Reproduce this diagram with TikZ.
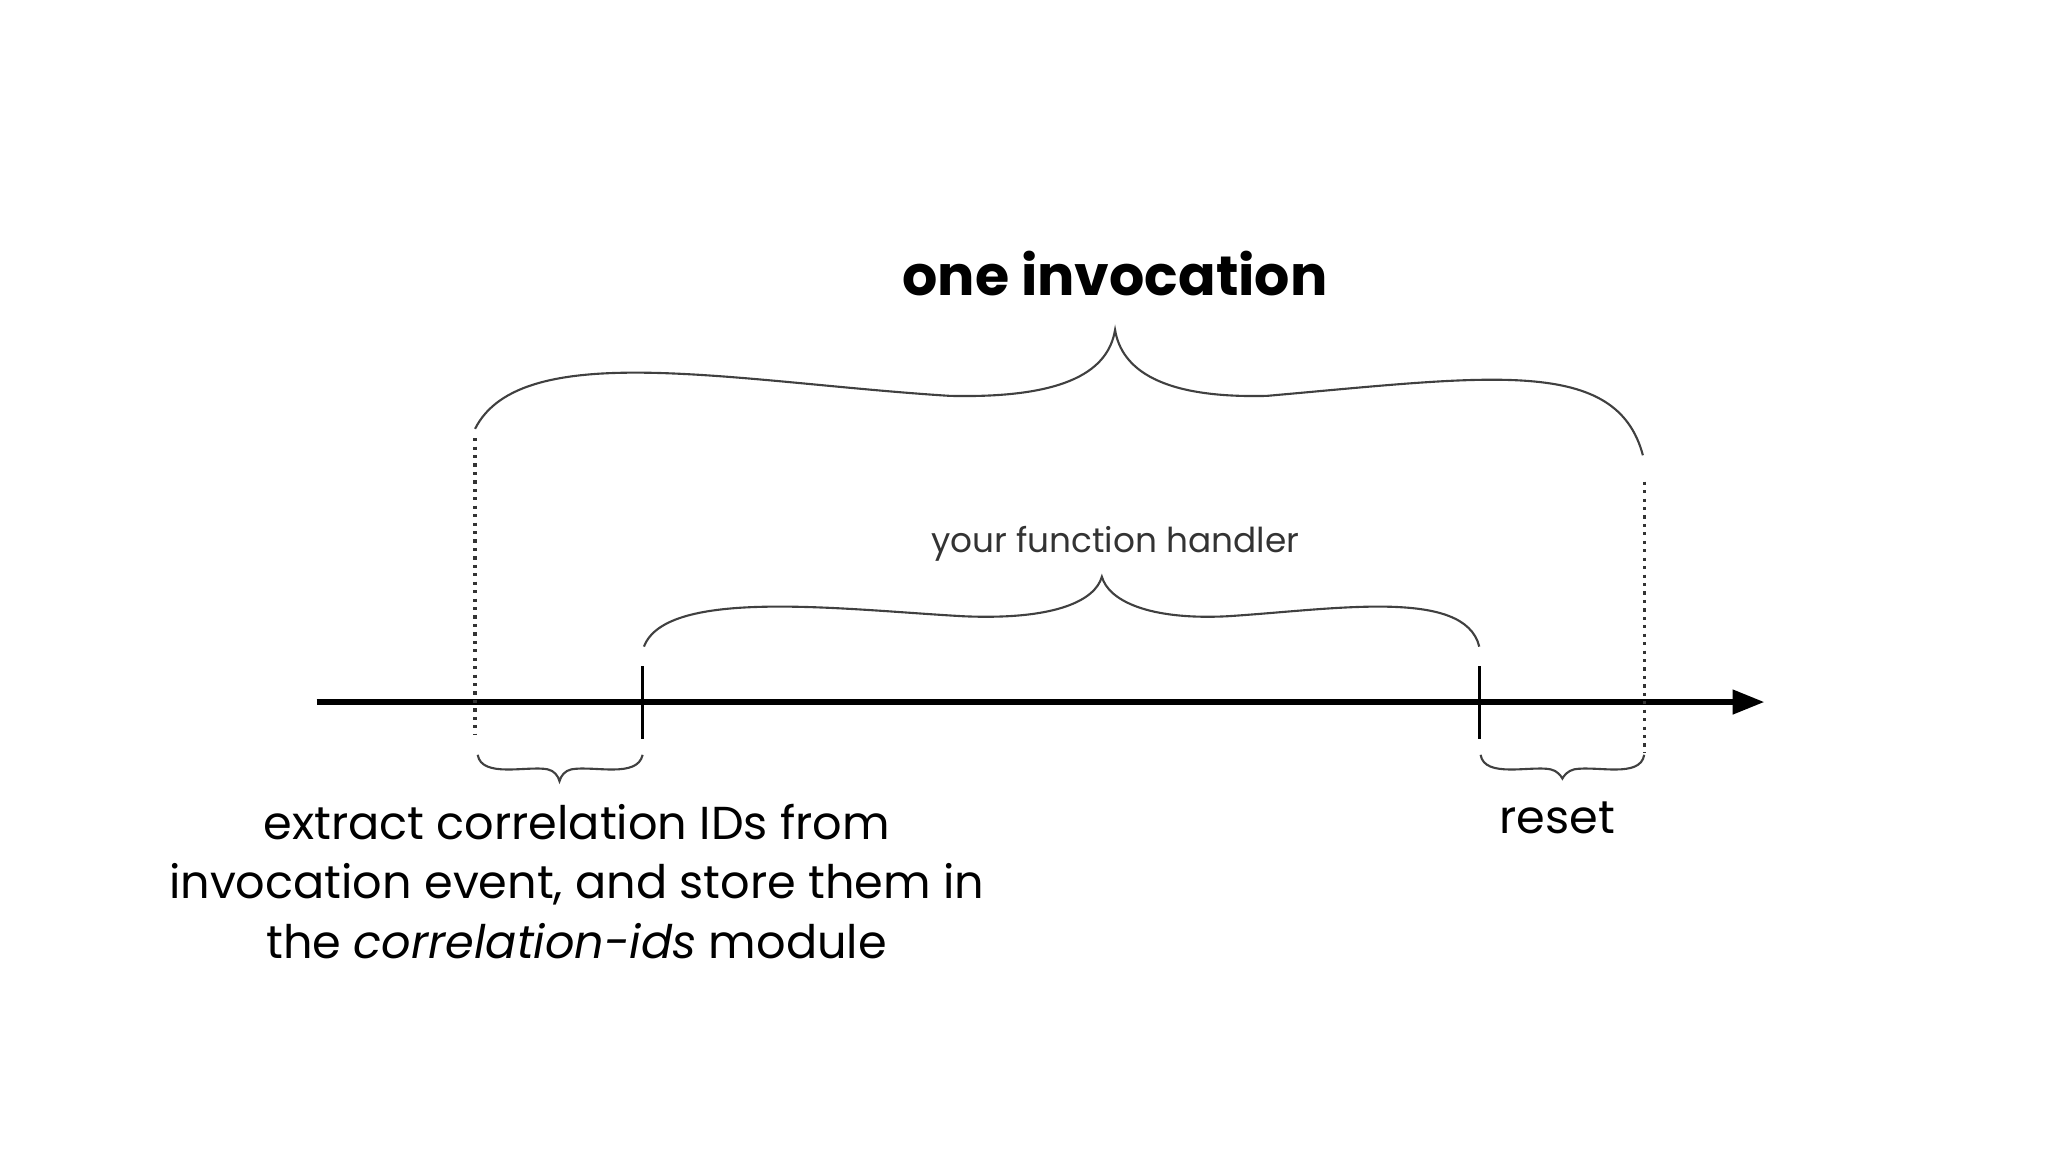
\documentclass[tikz,border=0pt]{standalone}
\usepackage{fontspec}
\setmainfont{Poppins}
\usetikzlibrary{arrows.meta}
\begin{document}
\begin{tikzpicture}[x=0.5pt,y=-0.5pt,
  brace/.style={line width=0.8pt,color=black!75},
  dots/.style={line width=1.2pt,dotted,color=black!80},
  lbl/.style={align=center,inner sep=0pt}]
\useasboundingbox (0,0) rectangle (1552,873);
% axis
\coordinate (a0) at (240,532); \coordinate (a1) at (1337,532);
\draw[line width=2pt,-{Triangle[length=12pt,width=9pt]}] (a0) -- (a1);
\coordinate (t1a) at (487,505); \coordinate (t1b) at (487,560);
\coordinate (t2a) at (1121,505); \coordinate (t2b) at (1121,560);
\draw[line width=1pt] (t1a) -- (t1b) (t2a) -- (t2b);
\coordinate (d1a) at (360,332); \coordinate (d1b) at (360,557);
\coordinate (d2a) at (1246,365); \coordinate (d2b) at (1246,570);
\draw[dots] (d1a) -- (d1b) (d2a) -- (d2b);
% big brace
\draw[brace] (360,325) .. controls (395,255) and (560,290) .. (720,300)
  .. controls (810,302) and (840,280) .. (845,250)
  .. controls (850,280) and (880,302) .. (960,300)
  .. controls (1130,285) and (1225,270) .. (1245,345);
% small brace
\draw[brace] (488,490) .. controls (505,445) and (640,462) .. (730,467)
  .. controls (800,470) and (830,455) .. (835,437)
  .. controls (840,455) and (870,470) .. (930,467)
  .. controls (1010,462) and (1110,445) .. (1121,490);
% bottom braces
\draw[brace] (362,572) .. controls (365,590) and (400,580) .. (415,583) .. controls (420,584) and (423,588) .. (424,592)
  .. controls (425,588) and (428,584) .. (433,583) .. controls (450,580) and (483,590) .. (487,572);
\draw[brace] (1122,572) .. controls (1125,590) and (1160,580) .. (1175,583) .. controls (1180,584) and (1183,588) .. (1184,590)
  .. controls (1185,588) and (1188,584) .. (1193,583) .. controls (1210,580) and (1243,590) .. (1246,572);
% labels
\node[lbl,font=\fontsize{21}{25}\selectfont\bfseries] (t1) at (845,207) {one invocation};
\node[lbl,font=\fontsize{13}{16}\selectfont,text=black!80] (t2) at (845,412) {your function handler};
\node[lbl,font=\fontsize{17.5}{22.5}\selectfont] (t3) at (437,668) {extract correlation IDs from\\invocation event, and store them in\\the \textit{correlation-ids} module};
\node[lbl,font=\fontsize{17.5}{22.5}\selectfont] (t4) at (1180,620) {reset};
\end{tikzpicture}
\end{document}
